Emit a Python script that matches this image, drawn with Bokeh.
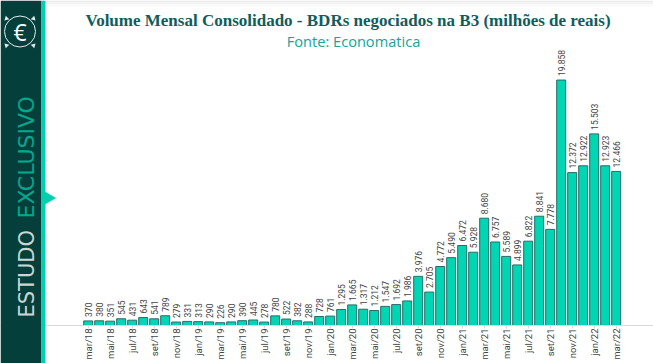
from math import pi
from bokeh.plotting import figure
from bokeh.models import ColumnDataSource, FixedTicker, Label, BoxAnnotation
from bokeh.core.properties import value
from bokeh.embed import file_html
from bokeh.resources import INLINE

months = ["mar/18","abr/18","mai/18","jun/18","jul/18","ago/18","set/18","out/18","nov/18","dez/18",
          "jan/19","fev/19","mar/19","abr/19","mai/19","jun/19","jul/19","ago/19","set/19","out/19","nov/19","dez/19",
          "jan/20","fev/20","mar/20","abr/20","mai/20","jun/20","jul/20","ago/20","set/20","out/20","nov/20","dez/20",
          "jan/21","fev/21","mar/21","abr/21","mai/21","jun/21","jul/21","ago/21","set/21","out/21","nov/21","dez/21",
          "jan/22","fev/22","mar/22"]
volumes = [370,380,351,545,431,643,541,789,279,331,
           313,290,226,290,390,445,278,780,522,382,288,728,
           761,1295,1665,1317,1212,1547,1692,1986,3976,2705,4772,5490,
           6472,5928,8680,6757,5589,4899,6822,8841,7778,19858,12372,12922,
           15503,12923,12466]
title = "Volume Mensal Consolidado - BDRs negociados na B3 (milhões de reais)"
subtitle = "Fonte: Economatica"

W, H = 653, 363
X0, DX = 87.7, 11.0
Y0, K = 325.0, 0.01236
def px(a): return (a - X0) / DX
def py(a): return (Y0 - a) / K

idx = list(range(len(months)))
labels = [f"{v:,}".replace(",", ".") for v in volumes]
src = ColumnDataSource(dict(x=idx, top=volumes, label=labels))

p = figure(width=W, height=H, output_backend="svg", toolbar_location=None,
           x_range=(px(0), px(W)), y_range=(py(H), py(0)),
           min_border=0, outline_line_color=None)
p.grid.visible = False
p.yaxis.visible = False

ax = p.xaxis[0]
ax.fixed_location = 0
ax.ticker = FixedTicker(ticks=idx[::2])
ax.major_label_overrides = {i: months[i] for i in idx[::2]}
ax.major_label_orientation = pi / 2
ax.major_label_text_font = "Roboto"
ax.major_label_text_font_size = "9.5px"
ax.major_label_text_color = "#444444"
ax.major_label_standoff = 0
ax.axis_line_color = "#d9d9d9"
ax.major_tick_line_color = "#d9d9d9"
ax.major_tick_out = 3
ax.major_tick_in = 0
ax.minor_tick_line_color = None

p.vbar(x="x", top="top", bottom=0, width=0.82, source=src,
       fill_color="#00d6b4", line_color="#2b6b66", line_width=1)
p.text(x="x", y="top", text="label", source=src, angle=pi/2, y_offset=-4,
       text_align="left", text_baseline="middle",
       text_font=value("Roboto"), text_font_size="8.5px", text_color="#444444")

# top shading, sidebar
for top_px, col in [(0, "#ececec"), (2, "#f3f3f3"), (4, "#f9f9f9")]:
    p.add_layout(BoxAnnotation(left=px(45), right=px(W), bottom=py(top_px + 2), top=py(top_px),
                               fill_color=col, fill_alpha=1, line_color=None))
p.add_layout(BoxAnnotation(left=px(0), right=px(41), bottom=py(H), top=py(0),
                           fill_color="#053f3c", fill_alpha=1, line_color=None))
p.add_layout(BoxAnnotation(left=px(41), right=px(45), bottom=py(H), top=py(0),
                           fill_color="#00d0ae", fill_alpha=1, line_color=None))
p.scatter([px(47.5)], [py(197.5)], marker="triangle", angle=-pi/2, size=14,
          fill_color="#00d0ae", line_color=None, level="overlay")
p.scatter([px(19.5)], [py(31)], marker="circle", size=31, fill_color=None,
          line_color="#dfeeea", line_width=1, level="overlay")
p.scatter([px(6), px(33), px(6), px(33)], [py(18), py(18), py(45), py(45)],
          marker="triangle", size=5, angle=[pi*0.75, -pi*0.75, pi*0.25, -pi*0.25],
          fill_color="#dfeeea", line_color=None, level="overlay")

def lab(x, y, text, **kw):
    p.add_layout(Label(x=px(x), y=py(y), text=text, **kw))

lab(19.5, 31, "€", text_color="#ffffff", text_font="Open Sans", text_font_size="23px",
    text_align="center", text_baseline="middle")
lab(26, 317, "ESTUDO", angle=pi/2, text_color="#c9d6d2", text_font="DejaVu Sans",
    text_font_size="21px", text_align="left", text_baseline="alphabetic")
lab(26, 218, "EXCLUSIVO", angle=pi/2, text_color="#00a98d", text_font="DejaVu Sans",
    text_font_size="22px", text_align="left", text_baseline="alphabetic")
lab(347.5, 20, title, text_color="#0e5e5c", text_font="Liberation Serif", text_font_style="bold",
    text_font_size="17px", text_align="center", text_baseline="middle")
lab(353, 40, subtitle, text_color="#14a596", text_font="Open Sans",
    text_font_size="14.6px", text_align="center", text_baseline="middle")

open("out.html", "w").write(file_html(p, INLINE))
